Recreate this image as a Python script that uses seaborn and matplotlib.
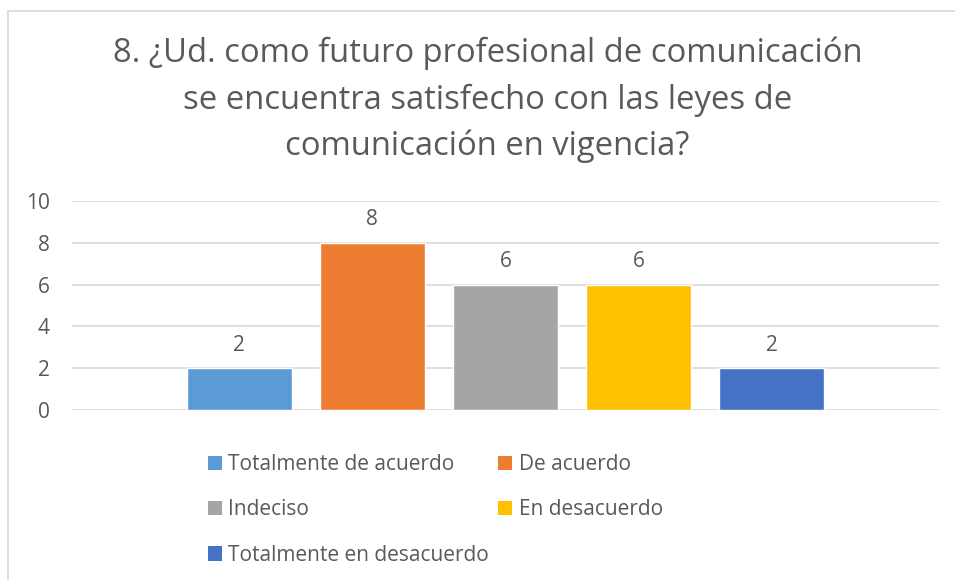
"""Recreate the Excel-style bar chart on satisfaction with communication laws."""

import matplotlib

matplotlib.use("Agg")

import matplotlib.pyplot as plt
import pandas as pd
import seaborn as sns
from matplotlib.patches import Patch, Rectangle

categories = [
    "Totalmente de acuerdo",
    "De acuerdo",
    "Indeciso",
    "En desacuerdo",
    "Totalmente en desacuerdo",
]
counts = [2, 8, 6, 6, 2]
colors = ["#5B9BD5", "#ED7D31", "#A5A5A5", "#FFC000", "#4472C4"]
y_ticks = [0, 2, 4, 6, 8, 10]
title = (
    "8. ¿Ud. como futuro profesional de comunicación\n"
    "se encuentra satisfecho con las leyes de\n"
    "comunicación en vigencia?"
)

TEXT = "#595959"
GRID = "#D9D9D9"


def main() -> None:
    sns.set_style("white")
    plt.rcParams["font.family"] = ["Open Sans", "DejaVu Sans"]

    df = pd.DataFrame({"respuesta": categories, "n": counts})

    fig = plt.figure(figsize=(9.55, 5.8), dpi=100)
    ax = fig.add_axes([72 / 955, 1 - 410 / 580, (939 - 72) / 955, (410 - 201) / 580])

    sns.barplot(
        data=df,
        x="respuesta",
        y="n",
        hue="respuesta",
        palette=colors,
        width=0.79,
        legend=False,
        saturation=1,
        ax=ax,
    )
    for container in ax.containers:
        ax.bar_label(container, padding=9, fontsize=15, color=TEXT)

    ax.set_xlim(-1.255, 5.255)
    ax.set_ylim(0, 10)
    ax.set_yticks(y_ticks)
    ax.set_xticks([])
    ax.set_xlabel("")
    ax.set_ylabel("")
    ax.tick_params(axis="y", length=0, pad=16, labelsize=15, labelcolor=TEXT)
    ax.grid(axis="y", color=GRID, linewidth=1.2)
    ax.set_axisbelow(True)
    sns.despine(ax=ax, left=True, bottom=True)

    fig.text(
        487.5 / 955,
        1 - 100 / 580,
        title,
        ha="center",
        va="center",
        fontsize=23.6,
        color=TEXT,
        linespacing=1.52,
    )

    handles = [Patch(facecolor=c, edgecolor="none") for c in colors]
    order = [0, 2, 4, 1, 3]
    fig.legend(
        [handles[i] for i in order],
        [categories[i] for i in order],
        ncol=2,
        loc="upper left",
        bbox_to_anchor=(208 / 955, 1 - 454 / 580),
        frameon=False,
        fontsize=15,
        labelcolor=TEXT,
        handlelength=0.67,
        handleheight=0.67,
        handletextpad=0.3,
        columnspacing=0.45,
        labelspacing=1.17,
        borderpad=0,
        borderaxespad=0,
    )

    fig.patches.append(
        Rectangle(
            (8 / 955, -0.1),
            1.2,
            1 - 11 / 580 + 0.1,
            transform=fig.transFigure,
            fill=False,
            edgecolor=GRID,
            linewidth=1.2,
        )
    )

    fig.savefig("out.png", dpi=100)
    plt.close(fig)


if __name__ == "__main__":
    main()
